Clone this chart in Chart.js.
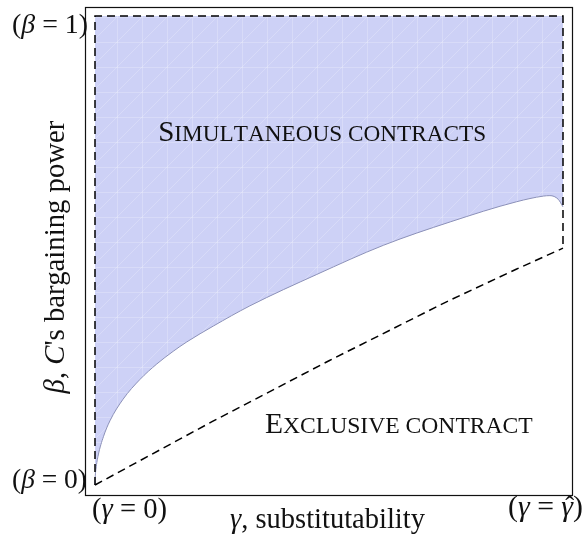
<!DOCTYPE html>
<html>
<head>
<meta charset="utf-8">
<script src="https://cdn.jsdelivr.net/npm/chart.js@4.4.1/dist/chart.umd.min.js"></script>
<style>
  html, body { margin: 0; padding: 0; background: #fff; }
</style>
</head>
<body>
<canvas id="chart" width="584" height="541"></canvas>
<script>
// boundary between the two regions (gamma on x, beta on y)
const boundaryGamma = [0, 0.0005, 0.002, 0.007, 0.018, 0.032, 0.06, 0.096, 0.132, 0.167, 0.196, 0.253, 0.331, 0.474, 0.616, 0.759, 0.901, 0.958, 0.972, 0.99, 1.0];
const boundaryBeta  = [0, 0.017, 0.034, 0.064, 0.103, 0.137, 0.183, 0.225, 0.258, 0.285, 0.305, 0.339, 0.382, 0.449, 0.511, 0.561, 0.604, 0.616, 0.617, 0.609, 0.593];

// dashed lower bound
const dashGamma = [0, 0.25, 0.5, 0.75, 0.9, 1.0];
const dashBeta  = [0, 0.135, 0.265, 0.39, 0.46, 0.505];

// dashed box: left edge, top edge, right edge
const boxGamma = [0, 0, 1, 1];
const boxBeta  = [0, 1, 1, 0.505];

const xTickLabels = ["(γ = 0)", "(γ = γ̂)"];
const yTickLabels = ["(β = 0)", "(β = 1)"];
const regionLabels = ["Simultaneous contracts", "Exclusive contract"];

const SERIF = "'Liberation Serif', 'DejaVu Serif', serif";

function toXY(xs, ys) {
  return xs.map((x, i) => ({ x: x, y: ys[i] }));
}

// light blue fill with the faint white tiling lines
function makePattern() {
  const t = document.createElement("canvas");
  t.width = 25; t.height = 25;
  const c = t.getContext("2d");
  c.fillStyle = "rgb(205,209,246)";
  c.fillRect(0, 0, 25, 25);
  c.strokeStyle = "rgba(255,255,255,0.22)";
  c.lineWidth = 1;
  c.beginPath();
  c.moveTo(17.5, 0); c.lineTo(17.5, 25);
  c.moveTo(0, 17.5); c.lineTo(25, 17.5);
  [9, 34, 59].forEach(k => { c.moveTo(-5, k + 5); c.lineTo(k + 5, -5); });
  c.stroke();
  const ctx = document.getElementById("chart").getContext("2d");
  return ctx.createPattern(t, "repeat");
}

function font(size, italic) {
  return (italic ? "italic " : "") + size + "px " + SERIF;
}

// math-ish label: italic greek letters, upright rest
function splitMath(str) {
  const parts = [];
  for (const ch of str) {
    if (ch === "\u0302") { parts[parts.length - 1].hat = true; continue; }
    const it = /[βγC]/.test(ch);
    const last = parts[parts.length - 1];
    if (last && last.it === it && !last.hat && !it) last.t += ch;
    else parts.push({ t: ch, it: it });
  }
  return parts;
}

function richWidth(ctx, parts, size) {
  let w = 0;
  parts.forEach(p => { ctx.font = font(size, p.it); w += ctx.measureText(p.t).width; });
  return w;
}

function drawRich(ctx, parts, x, y, size, align) {
  const w = richWidth(ctx, parts, size);
  let cx = align === "right" ? x - w : align === "center" ? x - w / 2 : x;
  ctx.textAlign = "left";
  ctx.textBaseline = "alphabetic";
  parts.forEach(p => {
    ctx.font = font(size, p.it);
    const pw = ctx.measureText(p.t).width;
    ctx.fillText(p.t, cx, y);
    if (p.hat) {
      ctx.font = font(size * 0.9, false);
      ctx.textAlign = "center";
      ctx.fillText("\u02C6", cx + pw / 2 + size * 0.08, y - size * 0.04);
      ctx.textAlign = "left";
    }
    cx += pw;
  });
}

function fitRich(ctx, parts, target) {
  return 20 * target / richWidth(ctx, parts, 20);
}

// small caps: upper-case letters big, the rest as reduced capitals
function smallCaps(ctx, text, x, y, target) {
  const ratio = 0.8;
  const widthAt = s => {
    let w = 0;
    for (const ch of text) {
      ctx.font = font(ch === ch.toUpperCase() && ch !== " " ? s : s * ratio, false);
      w += ctx.measureText(ch.toUpperCase()).width;
    }
    return w;
  };
  const size = 25 * target / widthAt(25);
  let cx = x;
  ctx.textAlign = "left";
  ctx.textBaseline = "alphabetic";
  for (const ch of text) {
    ctx.font = font(ch === ch.toUpperCase() && ch !== " " ? size : size * ratio, false);
    ctx.fillText(ch.toUpperCase(), cx, y);
    cx += ctx.measureText(ch.toUpperCase()).width;
  }
}

const annotations = {
  id: "annotations",
  afterDraw(chart) {
    const ctx = chart.ctx;
    const a = chart.chartArea;
    const xs = chart.scales.x, ys = chart.scales.y;
    ctx.save();
    ctx.strokeStyle = "#111";
    ctx.lineWidth = 1.2;
    ctx.strokeRect(a.left + 0.5, a.top + 0.5, a.right - a.left - 1, a.bottom - a.top - 1);

    ctx.fillStyle = "#111";
    const x0 = xs.getPixelForValue(0), x1 = xs.getPixelForValue(1);
    const y0 = ys.getPixelForValue(0), y1 = ys.getPixelForValue(1);

    // y tick labels
    let p = splitMath(yTickLabels[1]);
    drawRich(ctx, p, x0 - 7, y1 + 17, fitRich(ctx, p, 76), "right");
    p = splitMath(yTickLabels[0]);
    drawRich(ctx, p, x0 - 8, y0 + 3, fitRich(ctx, p, 75), "right");

    // x tick labels
    p = splitMath(xTickLabels[0]);
    drawRich(ctx, p, x0 - 3, y0 + 33, fitRich(ctx, p, 75), "left");
    p = splitMath(xTickLabels[1]);
    drawRich(ctx, p, x1 + 20, y0 + 31, fitRich(ctx, p, 75), "right");

    // axis titles
    p = splitMath("γ, substitutability");
    drawRich(ctx, p, 230, y0 + 43, fitRich(ctx, p, 195), "left");

    ctx.save();
    ctx.translate(64, 257);
    ctx.rotate(-Math.PI / 2);
    p = splitMath("β, C's bargaining power");
    drawRich(ctx, p, 0, 0, fitRich(ctx, p, 273), "center");
    ctx.restore();

    // region labels
    smallCaps(ctx, regionLabels[0], xs.getPixelForValue(0.135), ys.getPixelForValue(0.733), 328);
    smallCaps(ctx, regionLabels[1], xs.getPixelForValue(0.363), ys.getPixelForValue(0.111), 268);
    ctx.restore();
  }
};

new Chart(document.getElementById("chart"), {
  type: "scatter",
  data: {
    datasets: [
      {
        data: toXY(boxGamma, boxBeta),
        showLine: true,
        borderColor: "#000",
        borderWidth: 1.5,
        borderDash: [8, 5],
        pointRadius: 0,
        tension: 0,
        fill: false
      },
      {
        data: toXY(dashGamma, dashBeta),
        showLine: true,
        borderColor: "#000",
        borderWidth: 1.5,
        borderDash: [8, 5],
        pointRadius: 0,
        tension: 0,
        fill: false
      },
      {
        data: toXY(boundaryGamma, boundaryBeta),
        showLine: true,
        borderColor: "#8b90b8",
        borderWidth: 1,
        backgroundColor: makePattern(),
        fill: { value: 1 },
        pointRadius: 0,
        cubicInterpolationMode: "monotone"
      }
    ]
  },
  options: {
    responsive: false,
    animation: false,
    devicePixelRatio: 1,
    layout: { padding: { left: 85, top: 7, right: 11, bottom: 45 } },
    plugins: {
      legend: { display: false },
      tooltip: { enabled: false }
    },
    scales: {
      x: { type: "linear", min: -0.02137, max: 1.02137, display: false },
      y: { type: "linear", min: -0.02345, max: 1.01919, display: false }
    }
  },
  plugins: [annotations]
});
</script>
</body>
</html>
